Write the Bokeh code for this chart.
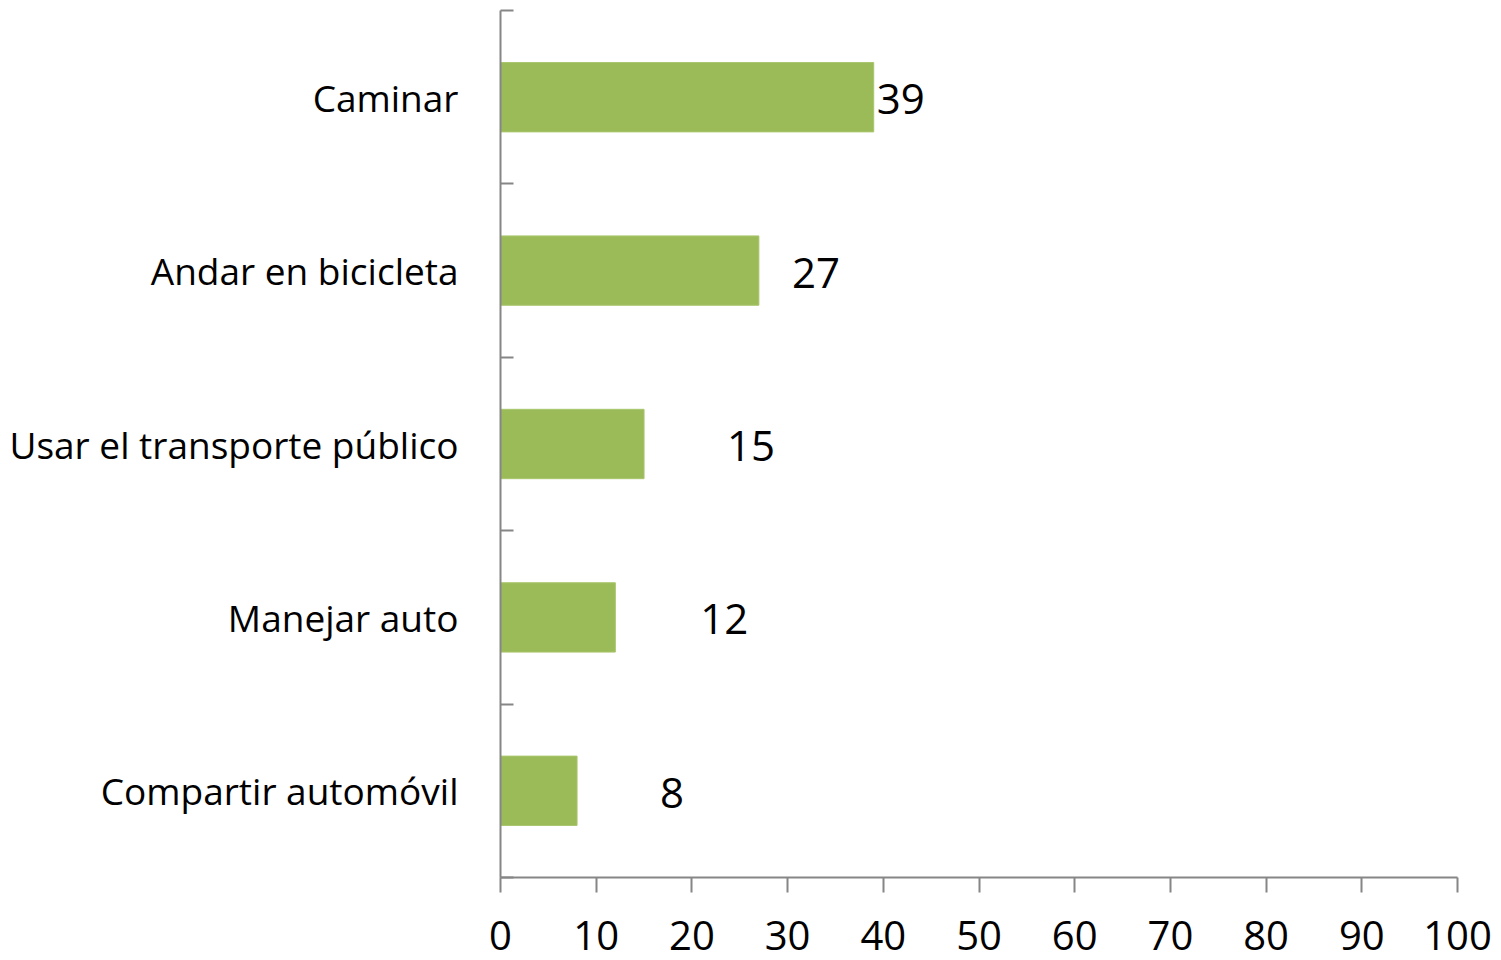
from bokeh.plotting import figure
from bokeh.models import Range1d, FixedTicker, ColumnDataSource
from bokeh.core.properties import value
from bokeh.embed import file_html
from bokeh.resources import INLINE

# ---- data ----
categories = ["Caminar", "Andar en bicicleta", "Usar el transporte público",
              "Manejar auto", "Compartir automóvil"]
values = [39, 27, 15, 12, 8]
x_ticks = [0, 10, 20, 30, 40, 50, 60, 70, 80, 90, 100]

# label placement (screen px offsets from bar end, as in the original)
label_offsets = [27, 57, 107, 109, 95]

n = len(categories)
centers = [n - i - 0.5 for i in range(n)]
bounds = [float(i) for i in range(n + 1)]

FONT = "Open Sans"
AXIS_COLOR = "#868686"

p = figure(width=1493, height=960, output_backend="svg", toolbar_location=None,
           x_range=Range1d(0, 100), y_range=Range1d(0, n),
           min_border_left=500, min_border_right=36, min_border_top=10,
           min_border_bottom=83)
p.outline_line_color = None
p.xgrid.visible = False
p.ygrid.visible = False
p.background_fill_color = "white"
p.border_fill_color = "white"

src = ColumnDataSource(dict(y=centers, v=values, lab=[str(v) for v in values],
                            off=label_offsets))
p.hbar(y="y", left=0, right="v", height=0.4, source=src,
       fill_color="#9BBB59", line_color="#A9C66E", line_width=1)
p.text(x="v", y="y", text="lab", x_offset="off", y_offset=2, source=src,
       text_align="center", text_baseline="middle",
       text_font=value(FONT), text_font_size="42px", text_color="black")

# x axis
xa = p.xaxis[0]
xa.ticker = FixedTicker(ticks=x_ticks)
xa.axis_line_color = AXIS_COLOR
xa.axis_line_width = 2
xa.major_tick_line_color = AXIS_COLOR
xa.major_tick_line_width = 2
xa.major_tick_out = 15
xa.major_tick_in = 0
xa.minor_tick_line_color = None
xa.major_label_text_font = FONT
xa.major_label_text_font_size = "40px"
xa.major_label_text_color = "black"
xa.major_label_standoff = 28

# y axis
ya = p.yaxis[0]
ya.ticker = FixedTicker(ticks=centers, minor_ticks=bounds)
ya.major_label_overrides = {c: cat for c, cat in zip(centers, categories)}
ya.axis_line_color = AXIS_COLOR
ya.axis_line_width = 2
ya.major_tick_line_color = None
ya.major_tick_out = 0
ya.major_tick_in = 0
ya.minor_tick_line_color = AXIS_COLOR
ya.minor_tick_line_width = 2
ya.minor_tick_in = 13
ya.minor_tick_out = 0
ya.major_label_text_font = FONT
ya.major_label_text_font_size = "37px"
ya.major_label_text_color = "black"
ya.major_label_standoff = 42

open("out.html", "w").write(file_html(p, INLINE))
